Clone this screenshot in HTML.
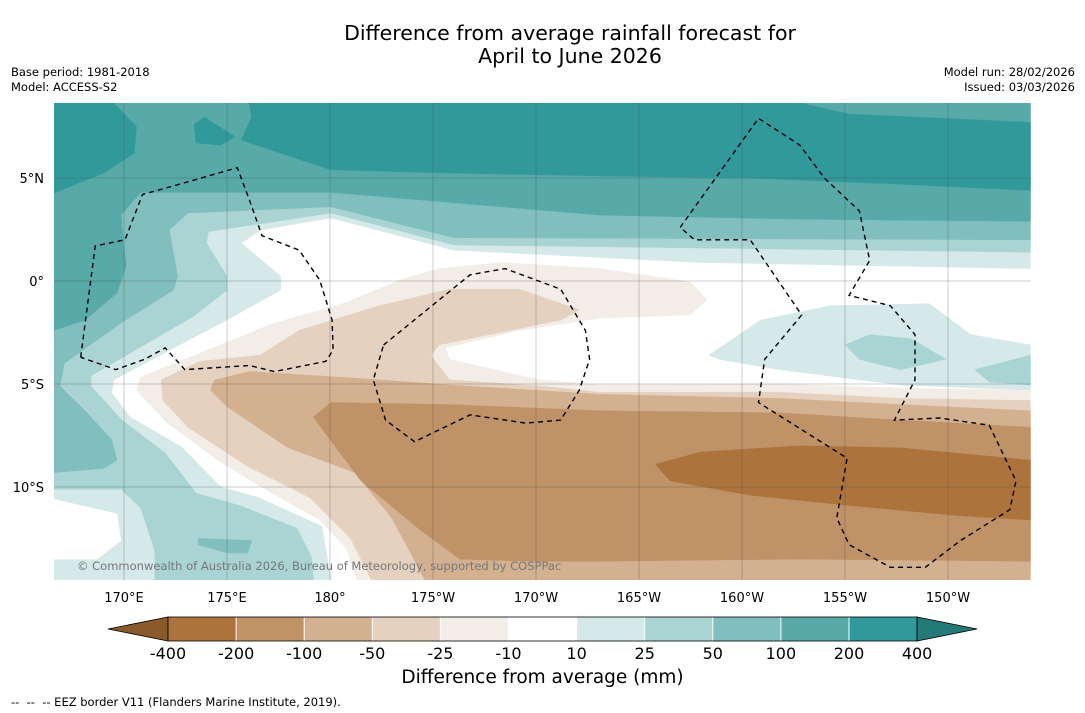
<!DOCTYPE html>
<html><head><meta charset="utf-8">
<style>
body{margin:0;background:#fff;font-family:"DejaVu Sans",sans-serif;}
#wrap{position:relative;width:1085px;height:713px;overflow:hidden;}
.t{position:absolute;white-space:nowrap;color:#000;}
</style></head>
<body>
<div id="wrap">
<div class="t" style="left:0;width:1140px;top:22px;text-align:center;font-size:20.5px;line-height:23px;">Difference from average rainfall forecast for<br>April to June 2026</div>
<div class="t" style="left:11px;top:65px;font-size:11.5px;line-height:15px;">Base period: 1981-2018<br>Model: ACCESS-S2</div>
<div class="t" style="right:10px;top:65px;font-size:11.5px;line-height:15px;text-align:right;">Model run: 28/02/2026<br>Issued: 03/03/2026</div>
<svg id="svg" width="1085" height="713" style="position:absolute;left:0;top:0"></svg>
<div class="t" style="left:0;width:1085px;top:667px;text-align:center;font-size:18.5px;">Difference from average (mm)</div>
<div class="t" style="left:11px;top:695px;font-size:11.5px;">-- &nbsp;-- &nbsp;-- EEZ border V11 (Flanders Marine Institute, 2019).</div>
</div>
<script>
const lonTicks=[170,175,180,185,190,195,200,205,210];
const lonTickLabels=["170°E","175°E","180°","175°W","170°W","165°W","160°W","155°W","150°W"];
const latTicks=[5,0,-5,-10];
const latTickLabels=["5°N","0°","5°S","10°S"];
const levels=["-400","-200","-100","-50","-25","-10","10","25","50","100","200","400"];
const levelColors=["#ac743c","#bf9367","#d3b08f","#e5d1bf","#f3ede7","#ffffff","#d5e9e8","#a9d4d3","#80bfbe","#57aaa8","#31999a"];
const pos10=[[166.6,8.64],[214,8.64],[214,0.6],[198,0.9],[186,1.5],[180.05,3.06],[176.65,2.48],[175.7,1.84],[177.6,0.24],[177.6,-0.44],[175,-1.89],[169.5,-4.8],[169.4,-5.44],[170.3,-6.6],[172.8,-8.06],[174.7,-10.0],[176.5,-10.5],[179.6,-11.9],[180.05,-14.5],[166.6,-14.5]];
const pos10b=[[198.4,-3.6],[200.9,-1.9],[204.3,-1.2],[209.1,-1.1],[211.1,-2.6],[214,-3.1],[214,-5.3],[207.7,-5.05],[201.8,-4.3],[198.9,-3.8]];
const pos25=[[166.6,8.64],[214,8.64],[214,1.4],[198,1.6],[186,1.75],[180.05,3.3],[174.1,2.4],[174.0,1.84],[175.0,0.24],[175.0,-0.44],[173.4,-1.7],[168.4,-4.6],[168.4,-5.1],[169.9,-6.75],[172,-8.35],[173.5,-10.3],[175.6,-10.9],[178.4,-12.0],[179.1,-13.4],[179.2,-14.5],[171.5,-14.5],[171.5,-13.1],[170.8,-11.0],[169.85,-10.1],[166.6,-10.1]];
const pos25b=[[205,-3.1],[206.2,-2.6],[208.2,-2.8],[209.9,-3.8],[207.7,-4.3],[205.7,-3.8]];
const pos25c=[[211.3,-4.3],[214,-3.6],[214,-5.05],[212,-4.9]];
const zero1=[[166.6,-10.6],[169.66,-11.3],[169.85,-12.6],[168.7,-13.5],[166.6,-13.5]];
const pos50=[[166.6,8.64],[214,8.64],[214,2.0],[186,2.1],[180.05,3.6],[173.1,3.3],[172.2,2.47],[172.6,0.24],[172.4,-0.44],[169.85,-2.04],[167.1,-4.0],[166.9,-5.1],[168.2,-6.4],[169.4,-7.7],[169.66,-8.7],[169.0,-9.1],[166.6,-9.3]];
const pos50b=[[173.6,-12.5],[176.2,-12.6],[176.0,-13.2],[175.0,-13.2],[173.6,-12.8]];
const pos100=[[166.6,8.64],[214,8.64],[214,2.9],[202.8,3.0],[193.1,3.2],[186,3.8],[180.05,4.3],[175.5,4.3],[170.8,4.3],[169.85,3.2],[170.1,0.73],[169.66,-0.58],[168.1,-1.9],[166.6,-2.4]];
const pos200a=[[166.6,8.64],[169.5,8.64],[170.6,7.5],[170.5,6.2],[169.0,5.24],[166.6,4.27]];
const pos200b=[[176.07,8.64],[202.8,8.64],[205.2,8.1],[214,7.7],[214,4.4],[207.7,4.7],[200.4,5.0],[193.1,5.1],[186,5.24],[180.05,5.4],[175.7,6.84],[176.2,8.0]];
const pos200c=[[173.4,7.6],[173.9,7.95],[175.4,7.0],[174.7,6.6],[173.5,6.7]];
const neg10=[[214,-5.3],[207.7,-5.2],[201.8,-5.0],[193.1,-5.05],[190.2,-4.8],[185.8,-3.8],[185.6,-3.25],[189.2,-2.4],[193.1,-1.8],[197.5,-1.65],[198.3,-0.9],[197.5,-0.05],[193.1,0.6],[188.3,0.9],[185.3,0.6],[183.4,0.05],[180.7,-1.07],[177.1,-2.1],[174.7,-3.1],[170.8,-4.66],[170.6,-5.3],[172.1,-6.9],[174.7,-8.8],[177,-10.2],[179.5,-11.6],[180.8,-13],[181.3,-14.5],[214,-14.5]];
const neg25=[[214,-5.8],[207.7,-5.7],[201.8,-5.4],[193.1,-5.4],[190.2,-5.1],[185.8,-4.8],[184.9,-3.6],[185.3,-3.1],[191.2,-1.9],[192.1,-1.4],[189.2,-0.4],[185.8,-0.4],[182.4,-1.2],[178.5,-2.4],[176.6,-3.6],[173.7,-3.9],[171.8,-4.8],[171.9,-5.8],[173.1,-7.1],[176,-9.0],[179,-10.5],[181,-12.5],[182,-14.5],[214,-14.5]];
const neg50=[[214,-6.3],[207.7,-6.0],[201.8,-5.7],[193.1,-5.5],[185.8,-5.05],[181,-4.7],[176.1,-4.4],[174.4,-4.8],[174.2,-5.3],[175.0,-6.1],[177.9,-8.06],[181.2,-9.3],[183,-11.5],[184.6,-14.5],[214,-14.5]];
const neg100=[[214,-7.1],[207.7,-6.75],[201.8,-6.4],[193.1,-6.3],[185.8,-6.0],[180.05,-5.9],[179.2,-6.6],[180,-7.7],[181.5,-9.7],[184.4,-12.1],[186.3,-13.5],[189.7,-13.6],[193.1,-13.6],[202.8,-13.5],[214,-13.6]];
const neg200=[[195.8,-8.9],[198,-8.3],[202.8,-8.0],[207.7,-8.1],[214,-8.7],[214,-11.6],[210.6,-11.4],[205.2,-10.9],[200.4,-10.4],[196.5,-9.7]];
const eezA=[[167.9,-3.7],[168.6,1.7],[170.05,2.0],[170.9,4.2],[172.7,4.7],[175.5,5.5],[176.1,3.9],[176.7,2.2],[178.5,1.5],[179.5,0.05],[180.1,-1.9],[180.15,-3.35],[179.8,-3.9],[177.3,-4.4],[176.1,-4.1],[172.95,-4.3],[172,-3.25],[171,-3.8],[169.6,-4.3],[167.9,-3.7]];
const eezB=[[182.6,-3.1],[186.8,0.3],[188.5,0.6],[191.2,-0.4],[192.4,-2.4],[192.6,-3.8],[192.1,-5.3],[191.2,-6.75],[189.5,-6.9],[186.8,-6.5],[184.1,-7.8],[182.7,-6.75],[182.1,-4.8],[182.6,-3.1]];
const eezC=[[197.0,2.6],[200.8,7.9],[202.8,6.6],[204.0,5.0],[205.7,3.4],[206.2,1.0],[205.2,-0.7],[207.2,-1.2],[208.4,-2.6],[208.4,-4.8],[207.4,-6.75],[209.6,-6.65],[212,-7.0],[213.3,-9.7],[213,-11.1],[210.6,-12.6],[208.9,-13.9],[207.2,-13.9],[205.2,-12.8],[204.6,-11.5],[205.1,-8.6],[200.8,-5.9],[201.1,-3.8],[202.9,-1.65],[200.4,2.0],[197.7,2.0],[197.0,2.6]];

const NS="http://www.w3.org/2000/svg";
const svg=document.getElementById('svg');
const FONT='DejaVu Sans, sans-serif';
const X0=54,X1=1031,Y0=103,Y1=580;
function px(lon){return 124+(lon-170)*20.6;}
function py(lat){return 281-lat*20.6;}
function mk(tag,attrs,parent){const e=document.createElementNS(NS,tag);for(const k in attrs)e.setAttribute(k,attrs[k]);(parent||svg).appendChild(e);return e;}
const defs=mk('defs',{});
const cp=mk('clipPath',{id:'clip'},defs);
mk('rect',{x:X0,y:Y0,width:X1-X0,height:Y1-Y0},cp);
const g=mk('g',{'clip-path':'url(#clip)'});


mk('rect',{x:X0,y:Y0,width:X1-X0,height:Y1-Y0,fill:'#fff'},g);
function poly(pts,color,name,dash){
  const d=pts.map((p,i)=>(i?'L':'M')+px(p[0]).toFixed(1)+' '+py(p[1]).toFixed(1)).join(' ');
  const e=mk('path',dash?{d:d,fill:'none',stroke:'#000','stroke-width':1.4,'stroke-dasharray':'5,4'}:{d:d+'Z',fill:color,stroke:color,'stroke-width':0.5,'stroke-linejoin':'round'},g);
  
  
}
poly(pos10,levelColors[6],'band-10-25');
poly(pos10b,levelColors[6],'band-10-25-east');
poly(pos25,levelColors[7],'band-25-50');
poly(pos25b,levelColors[7],'band-25-50-east');
poly(pos25c,levelColors[7],'band-25-50-edge');
poly(zero1,'#ffffff','band-neutral-sw');
poly(pos50,levelColors[8],'band-50-100');
poly(pos50b,levelColors[8],'band-50-100-south');
poly(pos100,levelColors[9],'band-100-200');
poly(pos200a,levelColors[10],'band-200-400-west');
poly(pos200b,levelColors[10],'band-200-400-north');
poly(pos200c,levelColors[10],'band-200-400-patch');
poly(neg10,levelColors[4],'band-minus10-25');
poly(neg25,levelColors[3],'band-minus25-50');
poly(neg50,levelColors[2],'band-minus50-100');
poly(neg100,levelColors[1],'band-minus100-200');
poly(neg200,levelColors[0],'band-minus200-400');
lonTicks.forEach((lon,i)=>{
  const l=mk('line',{x1:px(lon),x2:px(lon),y1:Y0,y2:Y1,stroke:'#444','stroke-width':0.5,opacity:0.55},g);
  
  
  const t=mk('text',{x:px(lon),y:602,'text-anchor':'middle','font-size':13,'font-family':FONT});
  t.textContent=lonTickLabels[i];
  
  
});
latTicks.forEach((lat,i)=>{
  const l=mk('line',{x1:X0,x2:X1,y1:py(lat),y2:py(lat),stroke:'#444','stroke-width':0.5,opacity:0.55},g);
  
  
  const t=mk('text',{x:44,y:py(lat)+5,'text-anchor':'end','font-size':13,'font-family':FONT});
  t.textContent=latTickLabels[i];
  
  
});
poly(eezA,null,'eez-border-tuvalu',true);
poly(eezB,null,'eez-border-tokelau',true);
poly(eezC,null,'eez-border-cook',true);
const cr=mk('text',{x:77,y:570,'font-size':11.5,fill:'#777','font-family':FONT},g);
cr.textContent='© Commonwealth of Australia 2026, Bureau of Meteorology, supported by COSPPac';


const cb=mk('g',{});


const cx0=168,cw=68.1,cy=617,ch=24;
const tl=mk('polygon',{points:`${cx0},${cy} ${cx0},${cy+ch} 108,${cy+ch/2}`,fill:'#8a5a2b',stroke:'#000','stroke-width':0.8},cb);


levelColors.forEach((c,i)=>{
  const r=mk('rect',{x:cx0+i*cw,y:cy,width:cw,height:ch,fill:c},cb);
  
  
  if(i>0){mk('line',{x1:cx0+i*cw,x2:cx0+i*cw,y1:cy,y2:cy+ch,stroke:'#fff','stroke-width':1},cb);}
});
const xe=cx0+levelColors.length*cw;
const tr=mk('polygon',{points:`${xe},${cy} ${xe},${cy+ch} 977,${cy+ch/2}`,fill:'#247a78',stroke:'#000','stroke-width':0.8},cb);


mk('rect',{x:cx0,y:cy,width:xe-cx0,height:ch,fill:'none',stroke:'#000','stroke-width':0.8},cb);
levels.forEach((lv,i)=>{
  const t=mk('text',{x:cx0+i*cw,y:659,'text-anchor':'middle','font-size':16,'font-family':FONT},cb);
  t.textContent=lv;
  
  
});
</script>
</body></html>
